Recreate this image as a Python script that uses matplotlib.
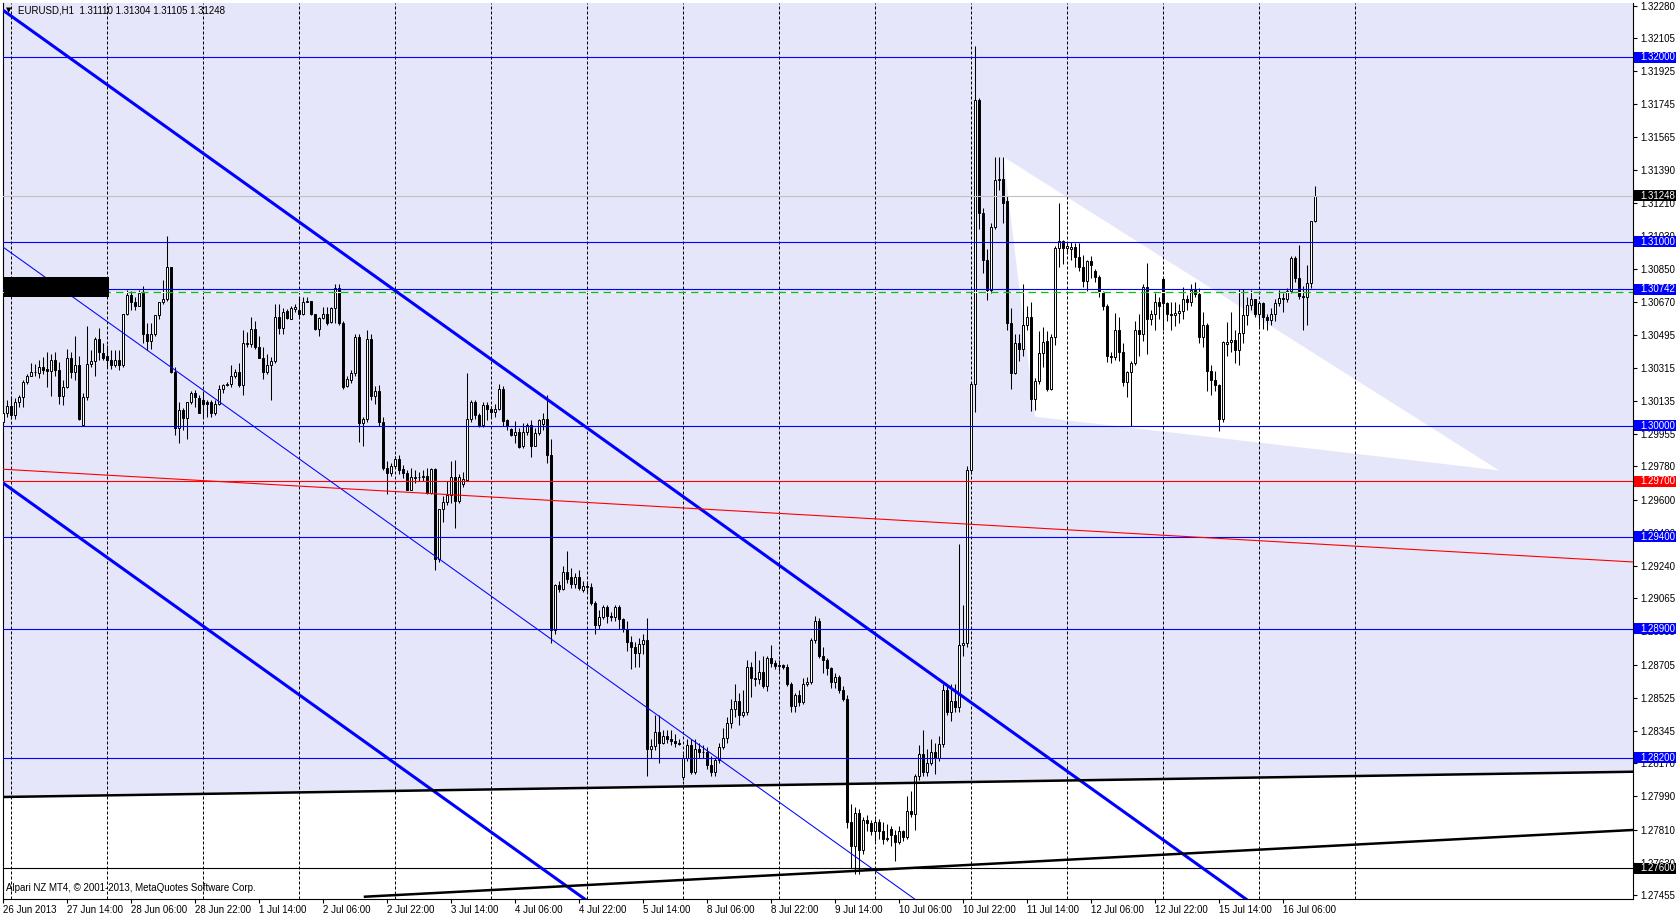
import numpy as np
import matplotlib.pyplot as plt
from matplotlib.patches import Polygon, Rectangle
from matplotlib.transforms import blended_transform_factory

# EURUSD H1, one candle per hour, 26 Jun 2013 22:00 .. 16 Jul 2013 14:00
# candle values are pips above 1.30000
BASE = 1.30000

opens = [
    2, 7, 11, 6, 13, 15.5, 24, 27, 29, 28.5,
    32, 31, 30, 36, 30.5, 16, 21, 37, 29.5, 33,
    0.5, 15.5, 33.5, 35, 47, 39.5, 38, 36, 33, 36,
    33, 61, 71, 67, 65, 72, 50, 46, 50, 60,
    67, 69, 86.5, 29.5, -1, 8.5, 4.5, 13, 18, 15,
    14, 13, 13, 7, 12, 20, 22, 22.5, 27, 29,
    22, 45, 44.5, 52.5, 43, 37, 29, 33, 35, 59,
    53, 62.5, 58, 63.5, 63, 61, 67.5, 67.8, 60.5, 52.5,
    58.5, 61, 56.5, 64, 75, 56, 21.6, 25, 28.5, 48,
    1.7, 4, 47, 16, 19, 2.3, -22.7, -25.8, -21.8, -18.2,
    -23.4, -25.8, -34.5, -28, -27.8, -27.9, -26.9, -36.6, -23.6, -72.4,
    -45.3, -41.5, -37.7, -27.6, -40.6, -31.5, -29.4, 3.5, 12.8, 5.9,
    0.5, 11.3, 9, 7.7, 9, 20.3, 3, -1.9, -5, -3.1,
    -11, -3.1, 0.5, -11, -4, 1, 3.5, -15.8, -110.7, -86.3,
    -88.2, -79, -82, -86, -82, -89, -87, -87.5, -96, -108,
    -103.5, -98.5, -103, -103.5, -98, -105, -110, -117, -120, -123,
    -118.5, -116, -175.5, -173.5, -166, -172, -168, -170, -171, -172,
    -190.5, -180.3, -173, -187.5, -175.5, -176.7, -177, -184, -188, -181,
    -174, -169.5, -161.4, -153.3, -149.3, -156.9, -155, -131, -137, -137.5,
    -133.4, -141, -126, -128.8, -130.5, -129.8, -130.6, -140, -152, -146,
    -150, -140, -139, -116, -106, -125, -127, -131.5, -139, -136,
    -143, -148, -215, -228, -210, -230, -214, -215.5, -220, -215,
    -220, -224, -218.5, -222, -225.5, -219.5, -223, -209, -210.5, -190,
    -178, -188, -183, -177, -180, -172.6, -143, -155, -149, -152.5,
    -119, -118, -24, 22.5, 177, 115.6, 90, 73.7, 108, 133.3,
    134, 122, 56, 28.5, 45, 42, 54.7, 59, 14.4, 24.5,
    39.7, 46, 20, 48, 96.8, 100.4, 96.3, 96, 97, 91.8,
    86.3, 78.8, 89.5, 84, 81, 72.8, 65, 37.9, 37.5, 52.3,
    40, 24, 29.4, 34, 52, 50, 75.5, 58, 60.6, 67.3,
    79.5, 66.5, 60.6, 60, 61.4, 62.3, 68.6, 67.4, 73.7, 71.5,
    48.4, 54.7, 30, 25, 22, 3.5, 44.4, 45.6, 46.6, 41,
    50.2, 60, 65.5, 68.8, 61, 66.5, 59, 57.7, 61, 66.5,
    69.5, 69, 73.3, 91, 80.4, 70.6, 69.7, 77.3, 111,
]
highs = [
    14, 14, 16, 15, 17, 25, 28, 34, 33.5, 36,
    37.5, 40, 39, 40, 34.5, 25, 42, 40, 49, 38,
    18, 54, 41, 48.5, 53, 45, 44, 41, 41, 41,
    61, 74, 73, 70, 73.5, 76, 56, 56, 60, 67.5,
    79, 103, 86.5, 32, 13, 10, 13, 19, 19.5, 17,
    18.5, 14, 14, 14, 22, 23, 24, 33, 31, 34,
    52, 51, 59, 57, 49, 43, 39, 37.5, 66, 66,
    64, 63.5, 65, 66, 70, 70, 70, 68, 61, 59,
    64.5, 64.5, 64.5, 77, 77, 57, 27, 30.3, 50, 50,
    5, 52, 50, 21.5, 22, 5, -19, -20, -16.5, -16,
    -21, -24, -23, -24, -25, -24, -23, -23, -23, -45,
    -38, -30, -19, -18.5, -26, -25, 28.8, 14.3, 14, 7,
    13, 13, 11, 12, 22.5, 21.5, 4, -1, 2.5, -1,
    1.7, 1.5, 3, -1, 4, 7, 17, -7, -86, -84,
    -76, -68, -77, -80, -78, -84, -84, -85, -95, -100,
    -97, -97, -101, -97, -97, -104, -106, -114, -117, -115,
    -113, -104, -170, -157, -157, -165, -165, -165, -167, -170,
    -178, -170, -170, -170, -172, -173, -174, -179, -180, -172,
    -164, -158, -148, -140, -145, -143, -127, -128, -122, -127,
    -125, -125, -119, -127, -127, -129, -129, -139, -145, -143,
    -137, -136, -115, -103, -104, -120, -126, -131, -134, -135,
    -141, -146, -205, -207, -208, -212, -211, -214, -213, -213,
    -215, -216, -217, -219, -217, -219, -201, -198, -189, -173,
    -165, -175, -170, -172, -168, -140, -140, -140, -140, -64,
    -97, -22, 24, 206, 178, 118, 96, 110, 146, 146,
    146, 125, 64, 50, 50, 76.8, 65, 67, 26, 51.5,
    53.5, 51.5, 50, 97.6, 121, 101, 100, 100, 99, 99,
    93, 90, 92, 85, 82, 73, 66, 40, 61.4, 59,
    45, 30, 35, 57, 61, 77, 88.5, 63, 72, 70,
    80, 67, 67, 67, 66, 75.2, 71, 77, 78, 75,
    62, 56, 33, 30, 22.5, 46, 56.5, 62, 52, 74.5,
    74.5, 70, 74, 69, 68, 67.5, 61, 64, 69, 74,
    72, 75, 92, 92, 98, 76, 87.4, 111, 130.4,
]
lows = [
    2, 5, 4, 4, 10.5, 10.5, 23, 27, 27, 26,
    28, 21, 16, 27, 12, 11.5, 20.5, 26, 25, 3,
    0, 14, 32, 27, 36, 36, 32, 31, 32, 30.5,
    32, 60, 63, 63, 65, 45, 41, 42, 49, 58,
    66, 68, 28.5, -5, -9.5, -2, -7, 12, 10.5, 7,
    5, 5, 5, 6, 11.5, 18, 21.5, 21, 26, 21,
    17, 43, 43, 42, 37, 25.5, 28, 14, 34, 50,
    50, 58, 58, 62, 59, 60, 67, 60, 52, 49,
    58, 55, 56, 56, 55, 20, 21, 23.5, 27, -8.5,
    -11, 2, 14, 12, 0, -24, -37, -27, -23, -26,
    -28, -35, -35, -31, -30, -30, -37, -37, -78, -74,
    -52, -43, -42, -55.4, -42, -33, -30, 2, 4, -0.5,
    -0.5, 3, 5, 5, 8.5, 0, -2, -5.5, -9, -12,
    -12, -5, -17, -11, -5, -2, -20, -118, -113, -90,
    -89, -85, -88, -88, -89, -90, -90, -97, -113, -110,
    -105, -107, -106, -106, -110, -112, -122, -132, -131, -131,
    -124, -190, -180, -176, -183, -172.5, -172, -173, -174, -173,
    -192, -182, -189, -189, -180, -180, -186, -190, -190, -183,
    -175, -172, -164, -158, -162, -158, -157, -147, -141, -140,
    -142, -144, -131, -132, -133, -132, -141, -155, -155, -152,
    -151, -141, -140, -118, -126, -134, -135, -142, -142, -145,
    -149, -218, -240, -243, -243, -232, -220, -222, -225, -224,
    -227, -225, -228, -236, -227, -225, -224, -212, -219, -192,
    -190, -190, -184, -189, -182, -174, -157, -160, -155, -155,
    -125, -120, -26, 7.7, 107, 83, 68.5, 72, 107, 128,
    110, 52, 20, 28, 35, 38, 52, 8, 8.5, 23,
    32, 19, 19.5, 44, 86.5, 88, 94, 90, 86, 84,
    75.5, 73, 80, 78, 70, 63, 34.5, 34, 36, 35,
    21.5, 15.7, 0, 33, 38, 46, 39, 55, 52, 58,
    52, 57, 52, 54, 56, 58, 63, 65, 70, 45,
    43, 19, 17, 19, -3, 2, 38, 40, 34, 33,
    45, 55, 63, 59, 54, 52.6, 52, 55, 57, 65,
    62, 67, 72, 78, 69, 52, 54.6, 75, 110.5,
]
closes = [
    7, 11, 6, 13, 15.5, 24, 27, 29, 29.5, 32,
    30.5, 30, 36, 30.5, 16, 21, 37, 29.5, 33, 4,
    15.5, 33.5, 35, 47, 40, 37, 36, 33, 36, 33,
    61, 71, 67, 65, 72, 50, 46, 50, 60, 67,
    69, 86, 29.5, -1, 8.5, 4.5, 13, 18, 15.5, 7,
    12, 12, 7, 12, 20, 22, 23, 27, 29, 22,
    45, 44.5, 52.5, 43, 37, 29, 33, 35, 59, 53,
    62, 58.5, 64, 64.5, 61, 67.5, 67.8, 60.5, 52.5, 58.5,
    60.5, 56, 64, 75, 56, 21, 25.3, 28.5, 48, 1.7,
    3.5, 47, 16, 19, 2.3, -23, -25.8, -21.8, -18.2, -24,
    -25.8, -34.5, -27.6, -27.8, -27.6, -26.9, -36.6, -23.6, -72.4, -45.3,
    -41.5, -37.7, -27.6, -40.6, -27.6, -29, 3.5, 12.8, 5.9, 0,
    11.3, 9, 7.7, 9, 20.3, 2.8, 0, -5, -3.1, -11.3,
    -3.1, 0.5, -11, -4, 3, 3.5, -15.8, -110.7, -86.3, -88.2,
    -79, -83, -86, -82, -88, -87, -87.5, -96, -108, -103.5,
    -98.5, -103, -103.5, -98, -105, -110, -117, -120, -123, -118.5,
    -116, -175.5, -173.5, -166, -172, -168, -170, -171, -172, -172.5,
    -180.3, -173, -187.5, -175.5, -176.7, -177, -184, -188, -181, -174,
    -169.5, -161.4, -153.3, -149.3, -156.9, -155, -131, -137, -137.5, -133.4,
    -141, -126, -128.8, -130.5, -129.8, -130.6, -140, -152, -146, -150,
    -140, -139, -116, -106, -125, -127, -131.5, -139, -136, -143,
    -148, -215, -228, -210, -230, -214, -215.5, -220, -215, -220,
    -224, -223.5, -222, -225.5, -219.5, -223, -209, -210.5, -190, -178,
    -188, -183, -177, -180, -172.6, -143, -155, -149, -152.5, -119,
    -118, -24, 22.5, 176.8, 115.6, 90, 73.7, 108, 133.7, 134,
    120.7, 56, 28.5, 45, 42, 54.7, 59, 14.4, 24.5, 39.7,
    45.6, 19.8, 48, 96.8, 100.4, 96.3, 97.6, 97, 91.8, 86.3,
    78.8, 89.5, 87.3, 81, 72.8, 65, 37.9, 37.5, 52.3, 40,
    24, 29.4, 34, 52, 50, 75.5, 58, 60.6, 67.3, 65,
    66.5, 60.6, 60, 61.4, 62.3, 68.6, 67.4, 73.7, 71.5, 48.4,
    54.7, 30, 25, 22, 3.5, 45.6, 45.6, 46.6, 41, 50.2,
    60, 65.5, 68.8, 61, 66.5, 59, 57.7, 61, 66.5, 69.5,
    69, 73.3, 91, 80.4, 70.6, 69.7, 77.3, 111, 124.8,
]

# time axis: a label every 16 bars starting at bar 0
time_labels = ["26 Jun 2013", "27 Jun 14:00", "28 Jun 06:00", "28 Jun 22:00",
               "1 Jul 14:00", "2 Jul 06:00", "2 Jul 22:00", "3 Jul 14:00",
               "4 Jul 06:00", "4 Jul 22:00", "5 Jul 14:00", "8 Jul 06:00",
               "8 Jul 22:00", "9 Jul 14:00", "10 Jul 06:00", "10 Jul 22:00",
               "11 Jul 14:00", "12 Jul 06:00", "12 Jul 22:00", "15 Jul 14:00",
               "16 Jul 06:00"]
label_step = 16
first_midnight = 2   # 27 Jun 00:00 is bar 2, day separators every 24 bars
n_days = 15

price_ticks = [1.32280, 1.32105, 1.31925, 1.31745, 1.31565, 1.31390, 1.31210,
               1.31030, 1.30850, 1.30670, 1.30495, 1.30315, 1.30135, 1.29955,
               1.29780, 1.29600, 1.29420, 1.29240, 1.29065, 1.28885, 1.28705,
               1.28525, 1.28345, 1.28170, 1.27990, 1.27810, 1.27630, 1.27455]

# horizontal line objects
blue_levels = [1.32000, 1.31000, 1.30742, 1.30000, 1.29400, 1.28900, 1.28200]
red_levels = [1.29700]
black_levels = [1.27600]
bid_price = 1.31248
green_level = 1.30726

# trendline anchors as (bar, price)
channel_top = [(0, 1.32254), (310, 1.27443)]
channel_mid = [(0, 1.30969), (200, 1.27865)]
channel_low = [(0, 1.29689), (140, 1.27516)]
red_trend = [(0, 1.29765), (407.4, 1.29262)]
black_upper = [(0, 1.27987), (407.4, 1.28124)]
black_lower = [(90.4, 1.27446), (407.4, 1.27808)]
triangle = [(250, 1.31460), (257.9, 1.30050), (373.9, 1.29759)]
box_bars = (0.2, 26.4)
box_prices = (1.30701, 1.30808)

LAVENDER = "#E6E6FA"
BLUE = "#0000FF"
RED = "#FF0000"

W, H = 1676, 917
XMIN, XMAX = -0.1, 407.4
YMIN, YMAX = 1.274335, 1.322973


def line_at(anchor, x):
    (x1, y1), (x2, y2) = anchor
    return y1 + (y2 - y1) * (np.asarray(x, dtype=float) - x1) / (x2 - x1)


def main():
    plt.rcParams['font.family'] = ['Liberation Sans', 'DejaVu Sans']

    o = BASE + np.array(opens) / 10000
    h = BASE + np.array(highs) / 10000
    l = BASE + np.array(lows) / 10000
    c = BASE + np.array(closes) / 10000
    x = np.arange(len(c))

    fig = plt.figure(figsize=(W / 100, H / 100), dpi=100)
    fig.patch.set_facecolor("white")
    ax = fig.add_axes([3 / W, 18 / H, 1630 / W, 896.5 / H])
    ax.set_facecolor("white")
    ax.set_xlim(XMIN, XMAX)
    ax.set_ylim(YMIN, YMAX)

    # lavender area above the upper black trendline
    xs = np.array([XMIN, XMAX])
    ax.fill_between(xs, line_at(black_upper, xs), YMAX, color=LAVENDER,
                    lw=0, zorder=0)
    # white triangle
    ax.add_patch(Polygon(triangle, closed=True, fc="white", ec="none", zorder=1))

    # day separators
    days = [first_midnight + 24 * k for k in range(n_days)]
    ax.vlines(days, YMIN, YMAX, colors="black", lw=0.72,
              linestyles=(0, (3, 2)), zorder=2)

    # candles
    up = c >= o
    ax.vlines(x, l, h, colors="black", lw=0.75, zorder=5)
    ax.bar(x, np.abs(c - o), bottom=np.minimum(o, c), width=0.5,
           color=np.where(up, "white", "black"), edgecolor="black",
           linewidth=0.7, zorder=6)

    # horizontal levels
    for lv in blue_levels:
        ax.axhline(lv, color=BLUE, lw=0.8, zorder=7)
    for lv in red_levels:
        ax.axhline(lv, color=RED, lw=0.8, zorder=7)
    for lv in black_levels:
        ax.axhline(lv, color="black", lw=0.8, zorder=7)
    ax.axhline(bid_price, color="#C0C0C0", lw=0.8, zorder=7)
    ax.axhline(green_level, color="white", lw=0.8, zorder=7)
    ax.axhline(green_level, color="#00C800", lw=0.9, ls=(0, (6, 4)), zorder=7)

    # trendlines
    for anchor, col, lw in [(channel_top, BLUE, 2.2), (channel_low, BLUE, 2.2),
                            (channel_mid, BLUE, 0.75), (red_trend, RED, 0.8),
                            (black_upper, "black", 1.8)]:
        ax.plot(xs, line_at(anchor, xs), color=col, lw=lw, zorder=7,
                solid_capstyle="butt")
    xl = np.array([black_lower[0][0], XMAX])
    ax.plot(xl, line_at(black_lower, xl), color="black", lw=1.8, zorder=7)

    # black rectangle
    ax.add_patch(Rectangle((box_bars[0], box_prices[0]),
                           box_bars[1] - box_bars[0],
                           box_prices[1] - box_prices[0],
                           fc="black", ec="none", zorder=8))

    # axes styling
    for side in ["left", "bottom", "right"]:
        ax.spines[side].set_color("black")
        ax.spines[side].set_linewidth(0.8)
    ax.spines["top"].set_visible(False)

    ax.yaxis.tick_right()
    ax.set_yticks(price_ticks)
    ax.set_yticklabels([f"{p:.5f}" for p in price_ticks])
    ax.tick_params(axis="y", length=3, width=0.8, pad=2.5, labelsize=7)

    ax.set_xticks(np.arange(len(time_labels)) * label_step)
    ax.set_xticklabels(time_labels)
    for t in ax.get_xticklabels():
        t.set_horizontalalignment("left")
    ax.tick_params(axis="x", length=3, width=0.8, pad=1.5, labelsize=7)

    # price labels for line objects
    trans = blended_transform_factory(ax.transAxes, ax.transData)
    box_h = 11 * (YMAX - YMIN) / 896.5

    def price_box(price, col):
        ax.add_patch(Rectangle((1.0008, price - box_h / 2), 0.03, box_h,
                               transform=trans, fc=col, ec="none",
                               clip_on=False, zorder=20))
        ax.text(1.0042, price, f"{price:.5f}", transform=trans, color="white",
                fontsize=7, va="center", ha="left", clip_on=False, zorder=21)

    for lv in blue_levels:
        price_box(lv, BLUE)
    for lv in red_levels:
        price_box(lv, RED)
    for lv in black_levels:
        price_box(lv, "black")
    price_box(bid_price, "black")

    # texts
    fig.text(9 / W, 1 - 10 / H, "\u25BC", fontsize=5, ha="center", va="center",
             family="DejaVu Sans")
    fig.text(18 / W, 1 - 10.5 / H, "EURUSD,H1  1.31110 1.31304 1.31105 1.31248",
             fontsize=7, va="center", ha="left")
    fig.text(6 / W, 1 - 888 / H,
             "Alpari NZ MT4, \u00A9 2001-2013, MetaQuotes Software Corp.",
             fontsize=7, va="center", ha="left")

    fig.savefig("out.png", dpi=100)


if __name__ == "__main__":
    main()
